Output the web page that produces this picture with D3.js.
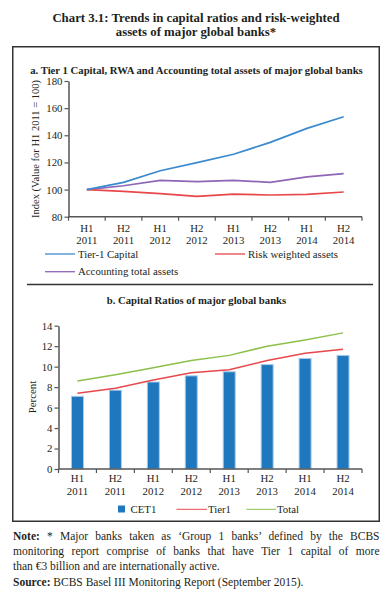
<!DOCTYPE html>
<html><head><meta charset="utf-8">
<script src="https://cdn.jsdelivr.net/npm/d3@7"></script>
<style>
html,body{margin:0;padding:0;background:#fff;}
svg{display:block;font-family:"Liberation Serif","DejaVu Serif",serif;}
</style></head><body>
<svg id="c" width="392" height="601"></svg>
<script>
const periods = [["H1","2011"],["H2","2011"],["H1","2012"],["H2","2012"],["H1","2013"],["H2","2013"],["H1","2014"],["H2","2014"]];
const periodKeys = periods.map(p => p.join(" "));
// Panel a: index values (H1 2011 = 100)
const tier1Capital = [100, 105.3, 113.9, 119.8, 126.0, 134.8, 145.1, 153.7];
const riskWeighted = [100, 98.7, 97.0, 95.0, 96.7, 96.0, 96.5, 98.2];
const accountingTotal = [100, 102.8, 106.8, 105.8, 106.8, 105.3, 109.3, 111.7];
const aTicks = [80, 100, 120, 140, 160, 180];
// Panel b: capital ratios (per cent)
const cet1 = [7.1, 7.7, 8.5, 9.1, 9.5, 10.2, 10.8, 11.1];
const tier1Ratio = [7.4, 7.9, 8.7, 9.4, 9.7, 10.6, 11.3, 11.7];
const totalRatio = [8.6, 9.2, 9.9, 10.6, 11.1, 12.0, 12.6, 13.3];
const bTicks = [0, 2, 4, 6, 8, 10, 12, 14];

const svg = d3.select("#c");
const txt = "#231f20", axisCol = "#555";

// Titles
svg.append("text").attr("x",196).attr("y",22).attr("text-anchor","middle").attr("font-weight","bold").attr("font-size",12.8).attr("fill",txt)
  .text("Chart 3.1: Trends in capital ratios and risk-weighted");
svg.append("text").attr("x",196).attr("y",36).attr("text-anchor","middle").attr("font-weight","bold").attr("font-size",12.8).attr("fill",txt)
  .text("assets of major global banks*");

// Frame
svg.append("rect").attr("x",12.75).attr("y",46.75).attr("width",366.5).attr("height",474.5).attr("fill","none").attr("stroke","#333").attr("stroke-width",1.5);

svg.append("text").attr("x",196.5).attr("y",74).attr("text-anchor","middle").attr("font-weight","bold").attr("font-size",10.7).attr("fill",txt)
  .text("a. Tier 1 Capital, RWA and Accounting total assets of  major global banks");

function drawAxes(g, x, y, ticks, y0, catY1, catY2) {
  const ya = g.append("g").attr("transform",`translate(${x.range()[0]},0)`)
    .call(d3.axisLeft(y).tickValues(ticks).tickSize(4).tickSizeOuter(0).tickPadding(2));
  ya.select(".domain").attr("stroke",axisCol).attr("stroke-width",1.5);
  ya.selectAll(".tick line").attr("stroke",axisCol).attr("stroke-width",1.2);
  ya.selectAll(".tick text").attr("font-size",10.8).attr("fill",txt).attr("font-family","Liberation Serif");
  // bottom axis: ticks at band boundaries
  const [r0, r1] = x.range();
  g.append("line").attr("x1",r0).attr("x2",r1).attr("y1",y0).attr("y2",y0).attr("stroke",axisCol).attr("stroke-width",1.5);
  const bounds = periodKeys.map(k => x(k)).concat([r1]);
  g.selectAll(".bt").data(bounds).join("line").attr("x1",d=>d).attr("x2",d=>d).attr("y1",y0).attr("y2",y0+4).attr("stroke",axisCol).attr("stroke-width",1.2);
  const lab = g.selectAll(".cl").data(periods).join("text").attr("text-anchor","middle").attr("font-size",10.8).attr("fill",txt);
  lab.each(function(d,i){
    const cx = x(periodKeys[i]) + x.bandwidth()/2;
    d3.select(this).append("tspan").attr("x",cx).attr("y",catY1).text(d[0]);
    d3.select(this).append("tspan").attr("x",cx).attr("y",catY2).text(d[1]);
  });
}

// Panel a
const xa = d3.scaleBand().domain(periodKeys).range([68.5, 362]);
const ya = d3.scaleLinear().domain([80,180]).range([216.7, 81]);
const ga = svg.append("g");
drawAxes(ga, xa, ya, aTicks, 216.7, 232, 243.5);
ga.append("text").attr("transform","translate(39,149) rotate(-90)").attr("text-anchor","middle").attr("font-size",10.5).attr("fill",txt)
  .text("Index (Value for H1 2011 = 100)");
const lineA = d3.line().x((d,i)=>xa(periodKeys[i])+xa.bandwidth()/2).y(d=>ya(d));
const aSeries = [
  {name:"Tier-1 Capital", vals:tier1Capital, col:"#3b8ad0"},
  {name:"Risk weighted assets", vals:riskWeighted, col:"#e8484c"},
  {name:"Accounting total assets", vals:accountingTotal, col:"#8e66b6"}
];
aSeries.slice().reverse().forEach(s => {
  ga.append("path").datum(s.vals).attr("d",lineA).attr("fill","none").attr("stroke",s.col).attr("stroke-width",1.7);
});
// legend a
const legA = [[45,254,0],[215,254,1],[45,271.7,2]];
legA.forEach(([lx,ly,i]) => {
  svg.append("line").attr("x1",lx).attr("x2",lx+30).attr("y1",ly).attr("y2",ly).attr("stroke",aSeries[i].col).attr("stroke-width",1.3);
  svg.append("text").attr("x",lx+33).attr("y",ly+3.5).attr("font-size",10.8).attr("fill",txt).text(aSeries[i].name);
});

// separator
svg.append("line").attr("x1",27).attr("x2",373).attr("y1",284.5).attr("y2",284.5).attr("stroke","#333").attr("stroke-width",1.3);

svg.append("text").attr("x",196.5).attr("y",304).attr("text-anchor","middle").attr("font-weight","bold").attr("font-size",10.7).attr("fill",txt)
  .text("b. Capital Ratios of major global banks");

// Panel b
const xb = d3.scaleBand().domain(periodKeys).range([58.5, 362]);
const yb = d3.scaleLinear().domain([0,14]).range([469, 325.7]);
const gb = svg.append("g");
const bw = 12;
gb.selectAll(".bar").data(cet1).join("rect")
  .attr("x",(d,i)=>xb(periodKeys[i])+xb.bandwidth()/2-bw/2).attr("width",bw)
  .attr("y",d=>yb(d)).attr("height",d=>yb(0)-yb(d))
  .attr("fill","#1f78bd").attr("stroke","#a9cbea").attr("stroke-width",1);
drawAxes(gb, xb, yb, bTicks, 469, 482, 495);
gb.append("text").attr("transform","translate(35.5,397) rotate(-90)").attr("text-anchor","middle").attr("font-size",10.8).attr("fill",txt).text("Percent");
const lineB = d3.line().x((d,i)=>xb(periodKeys[i])+xb.bandwidth()/2).y(d=>yb(d));
gb.append("path").datum(tier1Ratio).attr("d",lineB).attr("fill","none").attr("stroke","#e8484c").attr("stroke-width",1.5);
gb.append("path").datum(totalRatio).attr("d",lineB).attr("fill","none").attr("stroke","#8cc04a").attr("stroke-width",1.5);
// legend b
svg.append("rect").attr("x",118).attr("y",505.5).attr("width",7).attr("height",7).attr("fill","#1f78bd");
svg.append("text").attr("x",130.5).attr("y",512.5).attr("font-size",10.8).attr("fill",txt).text("CET1");
svg.append("line").attr("x1",176.5).attr("x2",207).attr("y1",509.3).attr("y2",509.3).attr("stroke","#e8484c").attr("stroke-width",1);
svg.append("text").attr("x",208).attr("y",512.5).attr("font-size",10.8).attr("fill",txt).text("Tier1");
svg.append("line").attr("x1",246.5).attr("x2",276).attr("y1",509.3).attr("y2",509.3).attr("stroke","#8cc04a").attr("stroke-width",1);
svg.append("text").attr("x",277).attr("y",512.5).attr("font-size",10.8).attr("fill",txt).text("Total");

// Notes (justified lines via word-spacing)
const noteLines = [
  {b:"Note:", t:" * Major banks taken as \u2018Group 1 banks\u2019 defined by the BCBS", y:539.5, just:true},
  {b:"", t:"monitoring report comprise of banks that have Tier 1 capital of more", y:554.8, just:true},
  {b:"", t:"than \u20ac3 billion and are internationally active.", y:570.3, just:false},
  {b:"Source:", t:" BCBS Basel III Monitoring Report (September 2015).", y:585.5, just:false}
];
noteLines.forEach(l => {
  const t = svg.append("text").attr("x",13).attr("y",l.y).attr("font-size",11.5).attr("fill",txt);
  if (l.b) t.append("tspan").attr("font-weight","bold").text(l.b);
  t.append("tspan").text(l.t);
  if (l.just) {
    const len = t.node().getComputedTextLength();
    const spaces = (l.b + l.t).split(" ").length - 1;
    t.attr("word-spacing", ((366.5 - len) / spaces).toFixed(3));
  }
});
</script>
</body></html>
